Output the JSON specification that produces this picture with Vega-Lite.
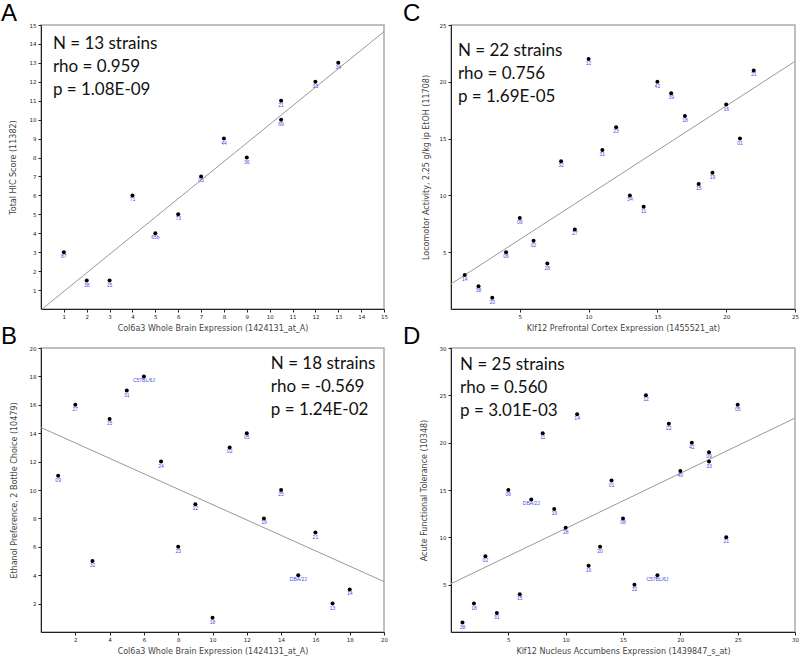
{
  "$schema": "https://vega.github.io/schema/vega-lite/v6.json",
  "padding": {"left": 0, "top": 1, "right": 0, "bottom": 0},
  "background": "white",
  "columns": 2,
  "spacing": {"row": 39, "column": 67},
  "bounds": "flush",
  "config": {
    "view": {"stroke": "#aaaaaa", "strokeWidth": 1.5},
    "axis": {"grid": false, "tickCount": 40, "format": "d", "labelOverlap": false, "labelFlush": false, "domainColor": "#222222", "domainWidth": 1, "tickColor": "#222222", "tickSize": 3, "labelFont": "DejaVu Sans", "labelFontSize": 5.5, "labelColor": "#222222", "labelPadding": 2, "titleFont": "DejaVu Sans", "titleFontSize": 8, "titleFontWeight": "normal", "titleColor": "#444444"},
    "axisX": {"titlePadding": 5},
    "axisY": {"titlePadding": 11},
    "title": {"font": "Liberation Sans", "fontSize": 24, "fontWeight": "normal", "anchor": "start", "frame": "group", "dx": -40, "baseline": "alphabetic", "offset": -3, "color": "#000000"}
  },
  "datasets": {
    "ptsA": [
      {"x": 1, "y": 3, "label": "87"}, {"x": 2, "y": 1.5, "label": "38"}, {"x": 3, "y": 1.5, "label": "15"},
      {"x": 4, "y": 6, "label": "71"}, {"x": 5, "y": 4, "label": "65b"}, {"x": 6, "y": 5, "label": "73"},
      {"x": 7, "y": 7, "label": "05"}, {"x": 8, "y": 9, "label": "44"}, {"x": 9, "y": 8, "label": "36"},
      {"x": 10.5, "y": 11, "label": "21"}, {"x": 10.5, "y": 10, "label": "69"}, {"x": 12, "y": 12, "label": "33"},
      {"x": 13, "y": 13, "label": "34"}
    ],
    "lineA": [{"x": 0, "y": -0.05}, {"x": 15, "y": 14.65}],
    "statsA": [{"stats": "N = 13 strains\nrho = 0.959\np = 1.08E-09"}],
    "ptsB": [
      {"x": 1, "y": 11, "label": "09"}, {"x": 2, "y": 16, "label": "27"}, {"x": 3, "y": 5, "label": "32"},
      {"x": 4, "y": 15, "label": "15"}, {"x": 5, "y": 17, "label": "31"}, {"x": 6, "y": 18, "label": "C57BL/6J"},
      {"x": 7, "y": 12, "label": "24"}, {"x": 8, "y": 6, "label": "23"}, {"x": 9, "y": 9, "label": "12"},
      {"x": 10, "y": 1, "label": "18"}, {"x": 11, "y": 13, "label": "02"}, {"x": 12, "y": 14, "label": "05"},
      {"x": 13, "y": 8, "label": "19"}, {"x": 14, "y": 10, "label": "25"}, {"x": 15, "y": 4, "label": "DBA/2J"},
      {"x": 16, "y": 7, "label": "21"}, {"x": 17, "y": 2, "label": "13"}, {"x": 18, "y": 3, "label": "14"}
    ],
    "lineB": [{"x": 0, "y": 14.4}, {"x": 20, "y": 3.55}],
    "statsB": [{"stats": "N = 18 strains\nrho = -0.569\np = 1.24E-02"}],
    "ptsC": [
      {"x": 1, "y": 3, "label": "14"}, {"x": 2, "y": 2, "label": "38"}, {"x": 3, "y": 1, "label": "20"},
      {"x": 4, "y": 5, "label": "06"}, {"x": 5, "y": 8, "label": "09"}, {"x": 6, "y": 6, "label": "02"},
      {"x": 7, "y": 4, "label": "28"}, {"x": 8, "y": 13, "label": "32"}, {"x": 9, "y": 7, "label": "27"},
      {"x": 10, "y": 22, "label": "12"}, {"x": 11, "y": 14, "label": "31"}, {"x": 12, "y": 16, "label": "23"},
      {"x": 13, "y": 10, "label": "34"}, {"x": 14, "y": 9, "label": "11"}, {"x": 15, "y": 20, "label": "42"},
      {"x": 16, "y": 19, "label": "39"}, {"x": 17, "y": 17, "label": "18"}, {"x": 18, "y": 11, "label": "15"},
      {"x": 19, "y": 12, "label": "19"}, {"x": 20, "y": 18, "label": "16"}, {"x": 21, "y": 15, "label": "01"},
      {"x": 22, "y": 21, "label": "21"}
    ],
    "lineC": [{"x": 0, "y": 2.2}, {"x": 25, "y": 21.8}],
    "statsC": [{"stats": "N = 22 strains\nrho = 0.756\np = 1.69E-05"}],
    "ptsD": [
      {"x": 1, "y": 1, "label": "38"}, {"x": 2, "y": 3, "label": "18"}, {"x": 3, "y": 8, "label": "02"},
      {"x": 4, "y": 2, "label": "31"}, {"x": 5, "y": 15, "label": "06"}, {"x": 6, "y": 4, "label": "15"},
      {"x": 7, "y": 14, "label": "DBA/2J"}, {"x": 8, "y": 21, "label": "11"}, {"x": 9, "y": 13, "label": "19"},
      {"x": 10, "y": 11, "label": "28"}, {"x": 11, "y": 23, "label": "14"}, {"x": 12, "y": 7, "label": "16"},
      {"x": 13, "y": 9, "label": "20"}, {"x": 14, "y": 16, "label": "01"}, {"x": 15, "y": 12, "label": "08"},
      {"x": 16, "y": 5, "label": "32"}, {"x": 17, "y": 25, "label": "12"}, {"x": 18, "y": 6, "label": "C57BL/6J"},
      {"x": 19, "y": 22, "label": "22"}, {"x": 20, "y": 17, "label": "40"}, {"x": 21, "y": 20, "label": "42"},
      {"x": 22.5, "y": 19, "label": "09"}, {"x": 22.5, "y": 18, "label": "33"}, {"x": 24, "y": 10, "label": "21"},
      {"x": 25, "y": 24, "label": "05"}
    ],
    "lineD": [{"x": 0, "y": 5.1}, {"x": 30, "y": 22.6}],
    "statsD": [{"stats": "N = 25 strains\nrho = 0.560\np = 3.01E-03"}]
  },
  "concat": [
    {
      "width": 343, "height": 284,
      "title": {"text": "A"},
      "layer": [
        {"data": {"name": "lineA"}, "mark": {"type": "line", "color": "#999999", "strokeWidth": 1},
         "encoding": {
           "x": {"field": "x", "type": "quantitative", "scale": {"domain": [0, 15], "nice": false, "zero": false},
                 "axis": {"title": "Col6a3 Whole Brain Expression (1424131_at_A)", "values": [1,2,3,4,5,6,7,8,9,10,11,12,13,14,15], "tickCount": 40, "format": "d"}},
           "y": {"field": "y", "type": "quantitative", "scale": {"domain": [0, 15], "nice": false, "zero": false},
                 "axis": {"title": "Total HIC Score (11382)", "values": [1,2,3,4,5,6,7,8,9,10,11,12,13,14,15], "tickCount": 40, "format": "d", "titlePadding": 12}}
         }},
        {"data": {"name": "ptsA"}, "mark": {"type": "point", "filled": true, "color": "#000000", "size": 16, "opacity": 1},
         "encoding": {"x": {"field": "x", "type": "quantitative"}, "y": {"field": "y", "type": "quantitative"}}},
        {"data": {"name": "ptsA"}, "mark": {"type": "text", "color": "#4a4aee", "fontSize": 5, "font": "Liberation Sans", "baseline": "top", "dy": 2},
         "encoding": {"x": {"field": "x", "type": "quantitative"}, "y": {"field": "y", "type": "quantitative"}, "text": {"field": "label"}}},
        {"data": {"name": "statsA"}, "mark": {"type": "text", "align": "left", "baseline": "top", "fontSize": 17, "font": "Lato", "lineBreak": "\n", "lineHeight": 23, "color": "#111111"},
         "encoding": {"x": {"datum": 0.52}, "y": {"datum": 14.4}, "text": {"field": "stats"}}}
      ]
    },
    {
      "width": 344, "height": 284,
      "title": {"text": "C", "dx": -48},
      "layer": [
        {"data": {"name": "lineC"}, "mark": {"type": "line", "color": "#999999", "strokeWidth": 1},
         "encoding": {
           "x": {"field": "x", "type": "quantitative", "scale": {"domain": [0, 25], "nice": false, "zero": false},
                 "axis": {"title": "Klf12 Prefrontal Cortex Expression (1455521_at)", "values": [5,10,15,20,25], "tickCount": 40, "format": "d"}},
           "y": {"field": "y", "type": "quantitative", "scale": {"domain": [0, 25], "nice": false, "zero": false},
                 "axis": {"title": "Locomotor Activity, 2.25 g/kg ip EtOH (11708)", "values": [5,10,15,20,25], "tickCount": 40, "format": "d", "titlePadding": 9}}
         }},
        {"data": {"name": "ptsC"}, "mark": {"type": "point", "filled": true, "color": "#000000", "size": 16, "opacity": 1},
         "encoding": {"x": {"field": "x", "type": "quantitative"}, "y": {"field": "y", "type": "quantitative"}}},
        {"data": {"name": "ptsC"}, "mark": {"type": "text", "color": "#4a4aee", "fontSize": 5, "font": "Liberation Sans", "baseline": "top", "dy": 2},
         "encoding": {"x": {"field": "x", "type": "quantitative"}, "y": {"field": "y", "type": "quantitative"}, "text": {"field": "label"}}},
        {"data": {"name": "statsC"}, "mark": {"type": "text", "align": "left", "baseline": "top", "fontSize": 17, "font": "Lato", "lineBreak": "\n", "lineHeight": 23, "color": "#111111"},
         "encoding": {"x": {"datum": 0.5}, "y": {"datum": 23.4}, "text": {"field": "stats"}}}
      ]
    },
    {
      "width": 343, "height": 284,
      "title": {"text": "B"},
      "layer": [
        {"data": {"name": "lineB"}, "mark": {"type": "line", "color": "#999999", "strokeWidth": 1},
         "encoding": {
           "x": {"field": "x", "type": "quantitative", "scale": {"domain": [0, 20], "nice": false, "zero": false},
                 "axis": {"title": "Col6a3 Whole Brain Expression (1424131_at_A)", "values": [2,4,6,8,10,12,14,16,18,20], "tickCount": 40, "format": "d"}},
           "y": {"field": "y", "type": "quantitative", "scale": {"domain": [0, 20], "nice": false, "zero": false},
                 "axis": {"title": "Ethanol Preference, 2 Bottle Choice (10479)", "values": [2,4,6,8,10,12,14,16,18,20], "tickCount": 40, "format": "d", "titlePadding": 11}}
         }},
        {"data": {"name": "ptsB"}, "mark": {"type": "point", "filled": true, "color": "#000000", "size": 16, "opacity": 1},
         "encoding": {"x": {"field": "x", "type": "quantitative"}, "y": {"field": "y", "type": "quantitative"}}},
        {"data": {"name": "ptsB"}, "mark": {"type": "text", "color": "#4a4aee", "fontSize": 5, "font": "Liberation Sans", "baseline": "top", "dy": 2},
         "encoding": {"x": {"field": "x", "type": "quantitative"}, "y": {"field": "y", "type": "quantitative"}, "text": {"field": "label"}}},
        {"data": {"name": "statsB"}, "mark": {"type": "text", "align": "left", "baseline": "top", "fontSize": 17, "font": "Lato", "lineBreak": "\n", "lineHeight": 23, "color": "#111111"},
         "encoding": {"x": {"datum": 13.4}, "y": {"datum": 19.44}, "text": {"field": "stats"}}}
      ]
    },
    {
      "width": 344, "height": 284,
      "title": {"text": "D", "dx": -48},
      "layer": [
        {"data": {"name": "lineD"}, "mark": {"type": "line", "color": "#999999", "strokeWidth": 1},
         "encoding": {
           "x": {"field": "x", "type": "quantitative", "scale": {"domain": [0, 30], "nice": false, "zero": false},
                 "axis": {"title": "Klf12 Nucleus Accumbens Expression (1439847_s_at)", "values": [5,10,15,20,25,30], "tickCount": 40, "format": "d"}},
           "y": {"field": "y", "type": "quantitative", "scale": {"domain": [0, 30], "nice": false, "zero": false},
                 "axis": {"title": "Acute Functional Tolerance (10348)", "values": [5,10,15,20,25,30], "tickCount": 40, "format": "d", "titlePadding": 11}}
         }},
        {"data": {"name": "ptsD"}, "mark": {"type": "point", "filled": true, "color": "#000000", "size": 16, "opacity": 1},
         "encoding": {"x": {"field": "x", "type": "quantitative"}, "y": {"field": "y", "type": "quantitative"}}},
        {"data": {"name": "ptsD"}, "mark": {"type": "text", "color": "#4a4aee", "fontSize": 5, "font": "Liberation Sans", "baseline": "top", "dy": 2},
         "encoding": {"x": {"field": "x", "type": "quantitative"}, "y": {"field": "y", "type": "quantitative"}, "text": {"field": "label"}}},
        {"data": {"name": "statsD"}, "mark": {"type": "text", "align": "left", "baseline": "top", "fontSize": 17, "font": "Lato", "lineBreak": "\n", "lineHeight": 23, "color": "#111111"},
         "encoding": {"x": {"datum": 0.79}, "y": {"datum": 29.05}, "text": {"field": "stats"}}}
      ]
    }
  ]
}
